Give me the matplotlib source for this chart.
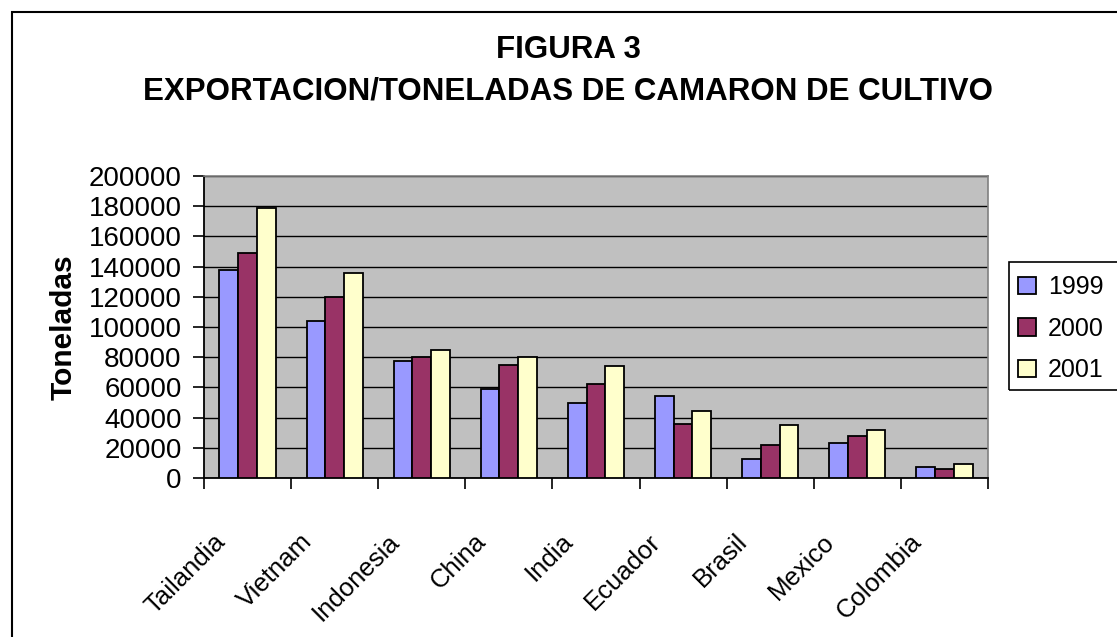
import numpy as np
import matplotlib.pyplot as plt
from matplotlib.patches import Rectangle
from matplotlib.transforms import ScaledTranslation

plt.rcParams['font.family'] = ['Liberation Sans', 'DejaVu Sans']

paises = ["Tailandia", "Vietnam", "Indonesia", "China", "India",
          "Ecuador", "Brasil", "Mexico", "Colombia"]
anios = ["1999", "2000", "2001"]
t1999 = [137500, 104000, 77500, 59000, 50000, 54000, 12500, 23000, 7500]
t2000 = [149000, 120000, 80000, 75000, 62000, 35500, 22000, 27500, 6000]
t2001 = [178500, 136000, 84500, 80000, 74000, 44500, 35000, 31500, 9000]
colores = ["#9999FF", "#993366", "#FFFFCC"]


def main():
    fig = plt.figure(figsize=(11.17, 6.37), dpi=100)
    ax = fig.add_axes([0.1826, 0.2496, 0.7019, 0.4741])

    x = np.arange(len(paises))
    w = 0.215
    series = [t1999, t2000, t2001]
    for k, (vals, col, lab) in enumerate(zip(series, colores, anios)):
        ax.bar(x + (k - 1) * w, vals, w, color=col, edgecolor="black",
               linewidth=1.3, label=lab, zorder=3)

    ax.set_facecolor("#C0C0C0")
    ax.set_xlim(-0.5, len(paises) - 0.5)
    ax.set_ylim(0, 200000)
    ax.set_yticks(np.arange(0, 200001, 20000))
    ax.yaxis.grid(True, color="black", linewidth=1.0, zorder=0)
    ax.set_axisbelow(True)

    # category boundaries carry the tick marks, labels sit at the centres
    ax.set_xticks(np.arange(-0.5, len(paises), 1.0))
    ax.set_xticklabels([])
    ax.set_xticks(x, minor=True)
    ax.set_xticklabels(paises, minor=True, rotation=45, ha="right",
                       rotation_mode="anchor", fontsize=18.5)
    ax.tick_params(axis="x", which="minor", length=0, pad=37)
    ax.tick_params(axis="x", which="major", length=8, width=1.2, direction="out")
    ax.tick_params(axis="y", length=8, width=1.2, labelsize=20, pad=8)
    offset = ScaledTranslation(-0.35, 0, fig.dpi_scale_trans)
    for lbl in ax.get_xticklabels(minor=True):
        lbl.set_transform(lbl.get_transform() + offset)

    for s in ["top", "right"]:
        ax.spines[s].set_color("#808080")
        ax.spines[s].set_linewidth(1.2)
    for s in ["left", "bottom"]:
        ax.spines[s].set_color("black")
        ax.spines[s].set_linewidth(1.3)

    ax.set_ylabel("Toneladas", fontsize=21.5, fontweight="bold")
    ax.yaxis.set_label_coords(-0.161, 0.5)

    fig.text(0.5085, 1 - 50 / 637, "FIGURA 3", ha="center", va="center",
             fontsize=22.5, fontweight="bold")
    fig.text(0.5085, 1 - 91 / 637, "EXPORTACION/TONELADAS DE CAMARON DE CULTIVO",
             ha="center", va="center", fontsize=22.5, fontweight="bold")

    # legend box runs off the right edge, so draw its frame by hand
    fig.legend(loc="upper left", bbox_to_anchor=(1005 / 1117, 1 - 262 / 637),
               fontsize=18, frameon=False, handlelength=0.7, handleheight=0.7,
               handletextpad=0.5, labelspacing=0.7, borderpad=0.52,
               borderaxespad=0)
    fig.patches.append(Rectangle((1009 / 1117, 1 - 390 / 637), 0.2, 128 / 637,
                                 transform=fig.transFigure, fill=False,
                                 edgecolor="black", linewidth=1.2))

    fig.patches.append(Rectangle((12 / 1117, -0.05), 1.1, 1 - 12 / 637 + 0.05,
                                 transform=fig.transFigure, fill=False,
                                 edgecolor="black", linewidth=1.5))

    fig.savefig("out.png", dpi=100, facecolor="white")


if __name__ == '__main__':
    main()
